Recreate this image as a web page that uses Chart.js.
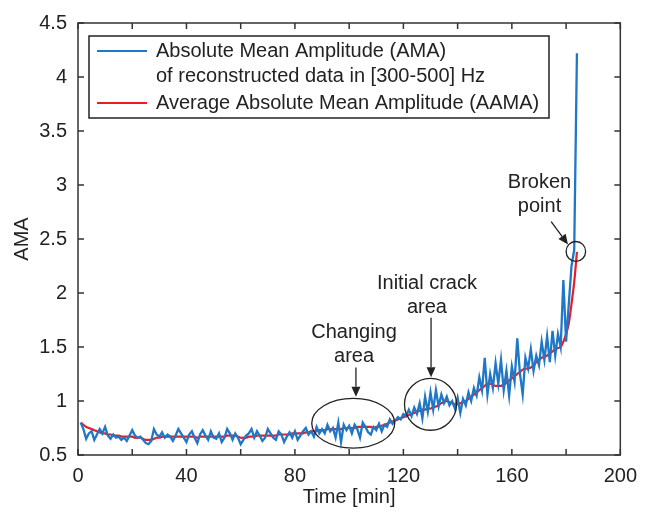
<!DOCTYPE html>
<html>
<head>
<meta charset="utf-8">
<script src="https://cdn.jsdelivr.net/npm/chart.js@4.4.1/dist/chart.umd.min.js"></script>
<style>
html, body { margin: 0; padding: 0; background: #fff; }
#wrap { width: 646px; height: 515px; }
</style>
</head>
<body>
<div id="wrap"><canvas id="amaChart"></canvas></div>
<script>
const minutes = [
    1, 2, 3, 4, 5, 6, 7, 8, 9, 10,
    11, 12, 13, 14, 15, 16, 17, 18, 19, 20,
    21, 22, 23, 24, 25, 26, 27, 28, 29, 30,
    31, 32, 33, 34, 35, 36, 37, 38, 39, 40,
    41, 42, 43, 44, 45, 46, 47, 48, 49, 50,
    51, 52, 53, 54, 55, 56, 57, 58, 59, 60,
    61, 62, 63, 64, 65, 66, 67, 68, 69, 70,
    71, 72, 73, 74, 75, 76, 77, 78, 79, 80,
    81, 82, 83, 84, 85, 86, 87, 88, 89, 90,
    91, 92, 93, 94, 95, 96, 97, 98, 99, 100,
    101, 102, 103, 104, 105, 106, 107, 108, 109, 110,
    111, 112, 113, 114, 115, 116, 117, 118, 119, 120,
    121, 122, 123, 124, 125, 126, 127, 128, 129, 130,
    131, 132, 133, 134, 135, 136, 137, 138, 139, 140,
    141, 142, 143, 144, 145, 146, 147, 148, 149, 150,
    151, 152, 153, 154, 155, 156, 157, 158, 159, 160,
    161, 162, 163, 164, 165, 166, 167, 168, 169, 170,
    171, 172, 173, 174, 175, 176, 177, 178, 179, 180,
    181, 182, 183, 184,
];

// AMA of reconstructed data in [300-500] Hz
const ama = [
    0.80, 0.74, 0.65, 0.70, 0.72, 0.64, 0.69, 0.74, 0.70, 0.76,
    0.68, 0.65, 0.69, 0.66, 0.67, 0.64, 0.66, 0.63, 0.68, 0.73,
    0.68, 0.66, 0.67, 0.64, 0.61, 0.60, 0.63, 0.74, 0.69, 0.67,
    0.71, 0.66, 0.69, 0.67, 0.63, 0.68, 0.74, 0.70, 0.66, 0.62,
    0.69, 0.72, 0.66, 0.61, 0.69, 0.73, 0.68, 0.64, 0.72, 0.66,
    0.65, 0.70, 0.62, 0.66, 0.74, 0.70, 0.64, 0.70, 0.66, 0.60,
    0.64, 0.68, 0.70, 0.74, 0.66, 0.72, 0.68, 0.63, 0.66, 0.74,
    0.70, 0.66, 0.64, 0.72, 0.69, 0.62, 0.67, 0.71, 0.66, 0.72,
    0.64, 0.68, 0.72, 0.75, 0.69, 0.72, 0.67, 0.76, 0.70, 0.74,
    0.70, 0.78, 0.72, 0.75, 0.66, 0.80, 0.62, 0.78, 0.73, 0.77,
    0.70, 0.78, 0.74, 0.66, 0.80, 0.76, 0.71, 0.69, 0.76, 0.73,
    0.79, 0.72, 0.78, 0.76, 0.83, 0.79, 0.82, 0.85, 0.83, 0.88,
    0.86, 0.92, 0.86, 0.94, 0.88, 0.98, 0.84, 1.04, 0.90, 1.08,
    0.92, 1.10, 0.95, 1.06, 0.98, 1.04, 0.96, 1.00, 0.93, 1.03,
    0.89, 1.02, 0.96, 1.08, 1.00, 1.12, 1.05, 1.22, 1.10, 1.40,
    1.06, 1.25, 1.12, 1.35, 1.16, 1.38, 1.10, 1.28, 1.05, 1.32,
    1.18, 1.58, 1.25, 1.06, 1.40, 1.30, 1.48, 1.28, 1.42, 1.33,
    1.55, 1.38, 1.60, 1.36, 1.65, 1.42, 1.62, 1.50, 2.12, 1.55,
    1.90, 2.25, 2.40, 4.22,
];

// Average AMA
const aama = [
    0.80, 0.78, 0.76, 0.75, 0.74, 0.73, 0.72, 0.71, 0.70, 0.70,
    0.69, 0.69, 0.68, 0.68, 0.68, 0.67, 0.67, 0.67, 0.67, 0.67,
    0.66, 0.66, 0.66, 0.65, 0.64, 0.64, 0.64, 0.65, 0.66, 0.66,
    0.67, 0.67, 0.67, 0.67, 0.67, 0.67, 0.67, 0.67, 0.67, 0.67,
    0.67, 0.67, 0.67, 0.66, 0.67, 0.67, 0.67, 0.67, 0.67, 0.67,
    0.67, 0.67, 0.67, 0.67, 0.68, 0.68, 0.68, 0.68, 0.67, 0.66,
    0.66, 0.66, 0.67, 0.67, 0.67, 0.68, 0.68, 0.68, 0.68, 0.68,
    0.68, 0.68, 0.68, 0.69, 0.69, 0.69, 0.69, 0.69, 0.70, 0.70,
    0.70, 0.70, 0.70, 0.71, 0.71, 0.72, 0.72, 0.72, 0.73, 0.73,
    0.73, 0.74, 0.74, 0.74, 0.74, 0.74, 0.74, 0.75, 0.75, 0.75,
    0.75, 0.75, 0.76, 0.76, 0.76, 0.76, 0.76, 0.76, 0.75, 0.76,
    0.76, 0.77, 0.78, 0.79, 0.80, 0.81, 0.82, 0.83, 0.84, 0.85,
    0.86, 0.87, 0.88, 0.89, 0.90, 0.91, 0.92, 0.92, 0.93, 0.93,
    0.94, 0.95, 0.96, 0.98, 0.99, 1.00, 0.99, 0.98, 0.97, 0.97,
    0.98, 0.99, 1.00, 1.02, 1.04, 1.06, 1.08, 1.10, 1.12, 1.14,
    1.16, 1.16, 1.15, 1.14, 1.14, 1.14, 1.15, 1.17, 1.19, 1.21,
    1.23, 1.25, 1.27, 1.29, 1.30, 1.30, 1.31, 1.33, 1.36, 1.38,
    1.40, 1.41, 1.42, 1.44, 1.46, 1.48, 1.49, 1.50, 1.55, 1.62,
    1.72, 1.90, 2.10, 2.38,
];

const xTicks = [0, 20, 40, 60, 80, 100, 120, 140, 160, 180, 200];
const yTicks = [0.5, 1, 1.5, 2, 2.5, 3, 3.5, 4, 4.5];

// annotations (data units)
const noteText = [['Changing', 'area'], ['Initial crack', 'area'], ['Broken', 'point']];
const noteAt = [[101.8, 1.63], [128.7, 2.09], [170.2, 3.02]];
const arrowFrom = [[102.5, 1.31], [130.2, 1.77], [174.5, 2.66]];
const arrowTo = [[102.5, 1.04], [130.2, 1.22], [180.7, 2.45]];
const ringCenter = [[101.5, 0.794], [130, 0.969], [183.6, 2.385]];
const ringRadius = [[15.3, 0.23], [9.6, 0.24], [3.6, 0.092]];

const FONT = '"Liberation Sans", Arial, Helvetica, sans-serif';
const INK = '#222';
const BLUE = '#1f77c8';
const RED = '#ec1c24';

const toPoints = ys => minutes.map((m, i) => ({ x: m, y: ys[i] }));

const frameAndNotes = {
    id: 'frameAndNotes',
    afterDatasetsDraw(chart) {
        const { ctx, chartArea: a, scales: { x, y } } = chart;
        ctx.save();

        // box + inward ticks
        ctx.strokeStyle = '#333';
        ctx.lineWidth = 1.5;
        ctx.strokeRect(a.left, a.top, a.right - a.left, a.bottom - a.top);
        ctx.beginPath();
        xTicks.forEach(v => {
            const px = x.getPixelForValue(v);
            ctx.moveTo(px, a.bottom); ctx.lineTo(px, a.bottom - 6);
            ctx.moveTo(px, a.top); ctx.lineTo(px, a.top + 6);
        });
        yTicks.forEach(v => {
            const py = y.getPixelForValue(v);
            ctx.moveTo(a.left, py); ctx.lineTo(a.left + 6, py);
            ctx.moveTo(a.right, py); ctx.lineTo(a.right - 6, py);
        });
        ctx.stroke();

        // ellipses
        ctx.strokeStyle = INK;
        ctx.lineWidth = 1.3;
        ringCenter.forEach((c, i) => {
            const cx = x.getPixelForValue(c[0]);
            const cy = y.getPixelForValue(c[1]);
            const rx = x.getPixelForValue(c[0] + ringRadius[i][0]) - cx;
            const ry = cy - y.getPixelForValue(c[1] + ringRadius[i][1]);
            ctx.beginPath();
            ctx.ellipse(cx, cy, rx, ry, 0, 0, Math.PI * 2);
            ctx.stroke();
        });

        // arrows
        ctx.fillStyle = INK;
        arrowFrom.forEach((f, i) => {
            const x0 = x.getPixelForValue(f[0]), y0 = y.getPixelForValue(f[1]);
            const x1 = x.getPixelForValue(arrowTo[i][0]), y1 = y.getPixelForValue(arrowTo[i][1]);
            const ang = Math.atan2(y1 - y0, x1 - x0);
            const head = 10, half = 4.5;
            ctx.beginPath();
            ctx.moveTo(x0, y0);
            ctx.lineTo(x1 - head * Math.cos(ang), y1 - head * Math.sin(ang));
            ctx.stroke();
            ctx.beginPath();
            ctx.moveTo(x1, y1);
            ctx.lineTo(x1 - head * Math.cos(ang) + half * Math.sin(ang), y1 - head * Math.sin(ang) - half * Math.cos(ang));
            ctx.lineTo(x1 - head * Math.cos(ang) - half * Math.sin(ang), y1 - head * Math.sin(ang) + half * Math.cos(ang));
            ctx.closePath();
            ctx.fill();
        });

        // annotation text
        ctx.font = '20px ' + FONT;
        ctx.textAlign = 'center';
        ctx.textBaseline = 'middle';
        noteText.forEach((lines, i) => {
            const px = x.getPixelForValue(noteAt[i][0]);
            const py = y.getPixelForValue(noteAt[i][1]);
            lines.forEach((t, k) => ctx.fillText(t, px, py + k * 24));
        });

        // legend
        const lx = a.left + 11, ly = a.top + 13, lw = 460, lh = 82;
        ctx.fillStyle = '#fff';
        ctx.fillRect(lx, ly, lw, lh);
        ctx.strokeStyle = '#222';
        ctx.lineWidth = 1.5;
        ctx.strokeRect(lx, ly, lw, lh);
        ctx.textAlign = 'left';
        ctx.fillStyle = INK;
        let rowY = ly + 15;
        chart.data.datasets.forEach(ds => {
            ctx.strokeStyle = ds.borderColor;
            ctx.lineWidth = 2;
            ctx.beginPath();
            ctx.moveTo(lx + 8, rowY);
            ctx.lineTo(lx + 58, rowY);
            ctx.stroke();
            ds.label.split('\n').forEach((t, k) => {
                ctx.fillText(t, lx + 67, rowY + k * 25);
            });
            rowY += ds.label.split('\n').length * 25 + 2;
        });

        ctx.restore();
    }
};

new Chart(document.getElementById('amaChart'), {
    type: 'line',
    data: {
        datasets: [{
            label: 'Absolute Mean Amplitude (AMA)\nof reconstructed data in [300-500] Hz',
            data: toPoints(ama),
            borderColor: BLUE,
            borderWidth: 2.3,
            pointRadius: 0,
            tension: 0,
        }, {
            label: 'Average Absolute Mean Amplitude (AAMA)',
            data: toPoints(aama),
            borderColor: RED,
            borderWidth: 2.2,
            pointRadius: 0,
            tension: 0.3,
        }]
    },
    options: {
        responsive: true,
        maintainAspectRatio: false,
        animation: false,
        layout: { padding: { left: 0, top: 20, right: 18, bottom: 0 } },
        plugins: {
            legend: { display: false },
            tooltip: { enabled: false },
        },
        scales: {
            x: {
                type: 'linear',
                min: 0,
                max: 200,
                afterFit: s => { s.height = 60; },
                afterBuildTicks: s => { s.ticks = xTicks.map(v => ({ value: v })); },
                grid: { display: false, drawTicks: false },
                border: { display: false },
                ticks: {
                    autoSkip: false,
                    maxRotation: 0,
                    padding: 9,
                    color: INK,
                    font: { family: FONT, size: 20 },
                    callback: v => (v % 40 === 0 ? String(v) : ''),
                },
                title: {
                    display: true,
                    text: 'Time [min]',
                    color: INK,
                    font: { family: FONT, size: 20 },
                    padding: { top: 0, bottom: 6 },
                },
            },
            y: {
                min: 0.5,
                max: 4.5,
                afterFit: s => { s.width = 78; },
                afterBuildTicks: s => { s.ticks = yTicks.map(v => ({ value: v })); },
                grid: { display: false, drawTicks: false },
                border: { display: false },
                ticks: {
                    padding: 11,
                    color: INK,
                    font: { family: FONT, size: 20 },
                    callback: v => String(v),
                },
                title: {
                    display: true,
                    text: 'AMA',
                    color: INK,
                    font: { family: FONT, size: 20 },
                    padding: { top: 10, bottom: 0 },
                },
            },
        },
    },
    plugins: [frameAndNotes],
});
</script>
</body>
</html>
